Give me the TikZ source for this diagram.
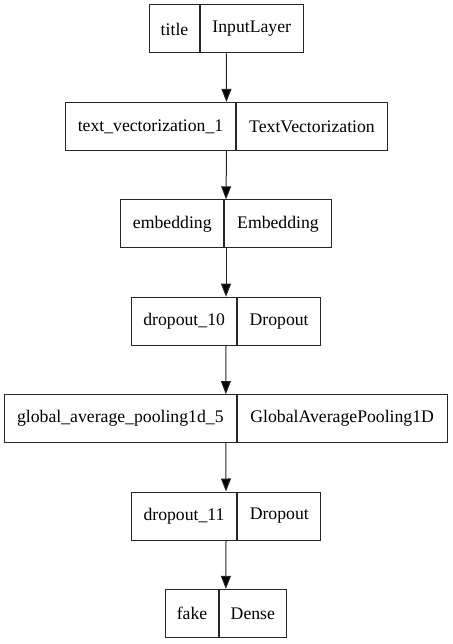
\documentclass[tikz,border=0pt]{standalone}
\usepackage{fontspec}
\setmainfont{Liberation Serif}
\usetikzlibrary{arrows.meta,calc}
\begin{document}
\begin{tikzpicture}[x=1pt,y=-1pt,
  cell/.style={draw=black!85,line width=1pt,rectangle,minimum height=48pt,inner sep=0pt,
    font=\fontsize{17.7}{20}\selectfont},
  lc/.style={cell,anchor=east},
  rc/.style={cell,anchor=west},
  arr/.style={draw=black!85,line width=1pt,-{Triangle[length=13pt,width=10pt,fill=black]}}]
\useasboundingbox (0,0) rectangle (452,644);
\node[lc,minimum width=50pt] (L1) at (200,29) {title};
\node[rc,minimum width=102.5pt] (R1) at (200,29) {InputLayer};
\node[lc,minimum width=170pt] (L2) at (236,126.4) {text\_vectorization\_1};
\node[rc,minimum width=151pt] (R2) at (236,126.4) {TextVectorization};
\node[lc,minimum width=103pt] (L3) at (224.3,223.8) {embedding};
\node[rc,minimum width=106.4pt] (R3) at (224.3,223.8) {Embedding};
\node[lc,minimum width=105.3pt] (L4) at (237.3,321.2) {dropout\_10};
\node[rc,minimum width=82.7pt] (R4) at (237.3,321.2) {Dropout};
\node[lc,minimum width=231.7pt] (L5) at (236.7,418.6) {global\_average\_pooling1d\_5};
\node[rc,minimum width=210pt] (R5) at (236.7,418.6) {GlobalAveragePooling1D};
\node[lc,minimum width=105.6pt] (L6) at (237.3,516) {dropout\_11};
\node[rc,minimum width=83pt] (R6) at (237.3,516) {Dropout};
\node[lc,minimum width=53pt] (L7) at (219,613.4) {fake};
\node[rc,minimum width=66.7pt] (R7) at (219,613.4) {Dense};
\foreach \i/\j in {1/2,2/3,3/4,4/5,5/6,6/7}{
  \draw[arr] ($(L\i.south west)!0.5!(R\i.south east)$) -- ($(L\j.north west)!0.5!(R\j.north east)$);
}
\end{tikzpicture}
\end{document}
